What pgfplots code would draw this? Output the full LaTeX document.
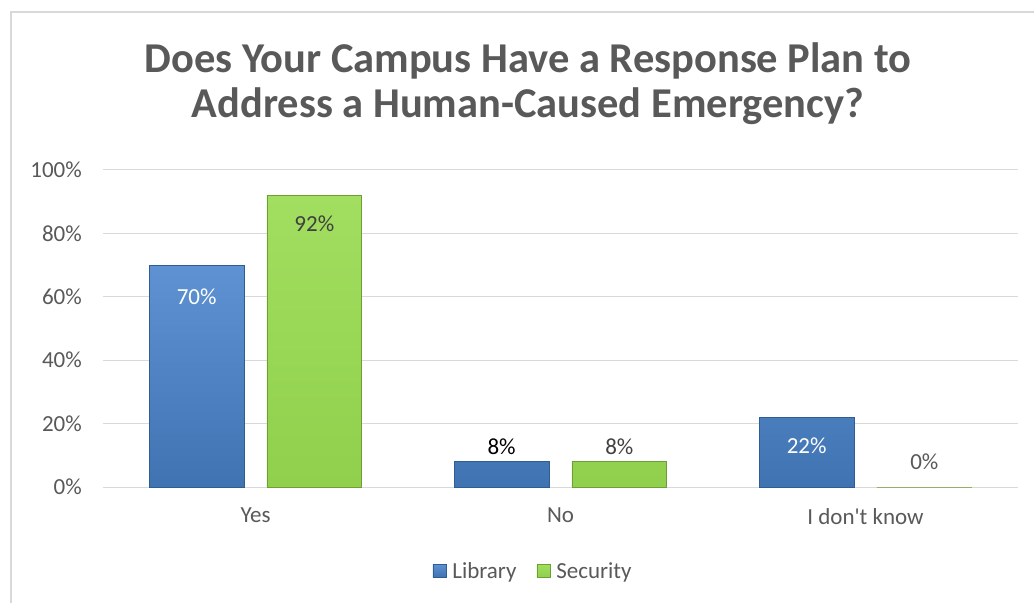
\documentclass[border=0pt]{standalone}
\usepackage{pgfplots}
\pgfplotsset{compat=1.18}
\usepackage{pgfplotstable}
\usepackage{fontspec}
\setmainfont{Carlito}
\definecolor{blueTop}{HTML}{5E92D2}
\definecolor{blueBot}{HTML}{3F73B2}
\definecolor{blueEdge}{HTML}{2F5C92}
\definecolor{greenTop}{HTML}{A2DE60}
\definecolor{greenBot}{HTML}{90D04C}
\definecolor{greenEdge}{HTML}{6F9E35}
\definecolor{gridc}{HTML}{D9D9D9}
\definecolor{txt}{HTML}{595959}
\definecolor{dark}{HTML}{404040}

% w: percentage of white in the label colour (rest black)
\pgfplotstableread{
x y dy w
0 70 -32 100
1 8 15 0
2 22 -28 100
}\library
\pgfplotstableread{
x y dy w
0 92 -28 25
1 8 15 25
2 0 25 35
}\security

\begin{document}
\begin{tikzpicture}[x=1pt,y=1pt]
\node[anchor=base, text=txt, font=\fontsize{42.5}{48}\bfseries] at (528,530) {Does Your Campus Have a Response Plan to};
\node[anchor=base, text=txt, font=\fontsize{42.5}{48}\bfseries] at (528,485) {Address a Human-Caused Emergency?};
\begin{axis}[
  at={(103pt,116pt)}, anchor=south west,
  scale only axis, width=915pt, height=317pt,
  ybar, bar width=0.311,
  xmin=-0.5, xmax=2.5, ymin=0, ymax=100,
  xtick={0,1,2}, xticklabels={Yes,No,I don\textquotesingle t know},
  ytick={0,20,40,60,80,100},
  yticklabels={0\%,20\%,40\%,60\%,80\%,100\%},
  axis line style={draw=none},
  axis x line*=bottom,
  x axis line style={draw=gridc, line width=1pt},
  ymajorgrids, grid style={draw=gridc, line width=1pt},
  major tick length=0pt,
  tick label style={text=txt, font=\fontsize{23}{27}\selectfont},
  y tick label style={inner sep=0pt, xshift=-21pt},
  x tick label style={inner sep=0pt, yshift=-21pt},
  legend columns=2,
  legend style={at={(axis description cs:0.47,-0.265)}, anchor=center, draw=none, font=\fontsize{23}{27}\selectfont, text=txt,
    /tikz/every odd column/.append style={column sep=4pt},
    /tikz/every even column/.append style={column sep=18pt}},
  legend image code/.code={\draw[#1] (0pt,-6pt) rectangle (13pt,7pt);},
  clip=false,
  labstyle/.style={
    nodes near coords={\pgfmathprintnumber[assume math mode=true]{\pgfplotspointmeta}\%},
    point meta=rawy,
    visualization depends on={\thisrow{dy} \as \labdy},
    visualization depends on={\thisrow{w} \as \labw},
    every node near coord/.append style={anchor=center, yshift=\labdy pt, text={white!\labw!black}, font=\fontsize{23}{27}\selectfont},
  },
]
\addplot[labstyle, bar shift=-0.193, draw=blueEdge, top color=blueTop, bottom color=blueBot, line width=0.8pt] table[x=x,y=y] {\library};
\addplot[labstyle, bar shift=0.193, draw=greenEdge, top color=greenTop, bottom color=greenBot, line width=0.8pt] table[x=x,y=y] {\security};
\legend{Library,Security}
\end{axis}
\draw[gridc, line width=2pt] (10.5,0) -- (10.5,590.5) -- (1034,590.5);
\pgfresetboundingbox
\path (0,0) rectangle (1034,603);
\end{tikzpicture}
\end{document}
